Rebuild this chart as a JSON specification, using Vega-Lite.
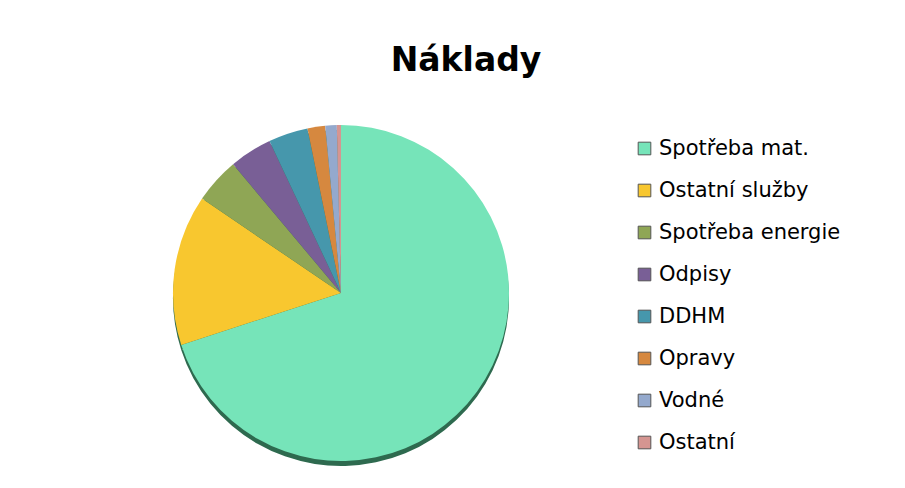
{
  "$schema": "https://vega.github.io/schema/vega-lite/v6.json",
  "width": 342,
  "height": 330,
  "autosize": "none",
  "padding": {"left": 170, "top": 128, "right": 393, "bottom": 30},
  "background": "white",
  "title": {
    "text": "Náklady",
    "font": "DejaVu Sans",
    "fontSize": 33,
    "fontWeight": "bold",
    "color": "#000000",
    "anchor": "middle",
    "dx": 125,
    "baseline": "alphabetic",
    "offset": 21
  },
  "data": {
    "values": [
      {"kategorie": "Spotřeba mat.", "podil": 70.0, "poradi": 1},
      {"kategorie": "Ostatní služby", "podil": 14.5, "poradi": 2},
      {"kategorie": "Spotřeba energie", "podil": 4.4, "poradi": 3},
      {"kategorie": "Odpisy", "podil": 4.1, "poradi": 4},
      {"kategorie": "DDHM", "podil": 3.8, "poradi": 5},
      {"kategorie": "Opravy", "podil": 1.7, "poradi": 6},
      {"kategorie": "Vodné", "podil": 1.1, "poradi": 7},
      {"kategorie": "Ostatní", "podil": 0.4, "poradi": 8}
    ]
  },
  "layer": [
    {
      "mark": {"type": "arc", "outerRadius": 168, "yOffset": 5, "color": "#2e6a4f"},
      "encoding": {
        "theta": {"field": "podil", "type": "quantitative", "stack": true},
        "order": {"field": "poradi", "type": "quantitative"}
      }
    },
    {
      "mark": {"type": "arc", "outerRadius": 168},
      "encoding": {
        "theta": {"field": "podil", "type": "quantitative", "stack": true},
        "order": {"field": "poradi", "type": "quantitative"},
        "color": {
          "field": "kategorie",
          "type": "nominal",
          "scale": {
            "domain": ["Spotřeba mat.", "Ostatní služby", "Spotřeba energie", "Odpisy", "DDHM", "Opravy", "Vodné", "Ostatní"],
            "range": ["#76e4b9", "#f8c72f", "#8fa655", "#795f96", "#4697ac", "#d6883f", "#94a9cd", "#d59591"]
          },
          "legend": {
            "title": null,
            "orient": "none",
            "legendX": 464,
            "legendY": 10,
            "padding": 0,
            "symbolType": "square",
            "symbolSize": 160,
            "symbolStrokeWidth": 1,
            "symbolStrokeColor": "#555555",
            "symbolOpacity": 1,
            "labelFont": "DejaVu Sans",
            "labelFontSize": 21,
            "labelColor": "#000000",
            "labelOffset": 4,
            "rowPadding": 20,
            "labelLimit": 300
          }
        }
      }
    }
  ],
  "config": {"view": {"stroke": null}}
}
